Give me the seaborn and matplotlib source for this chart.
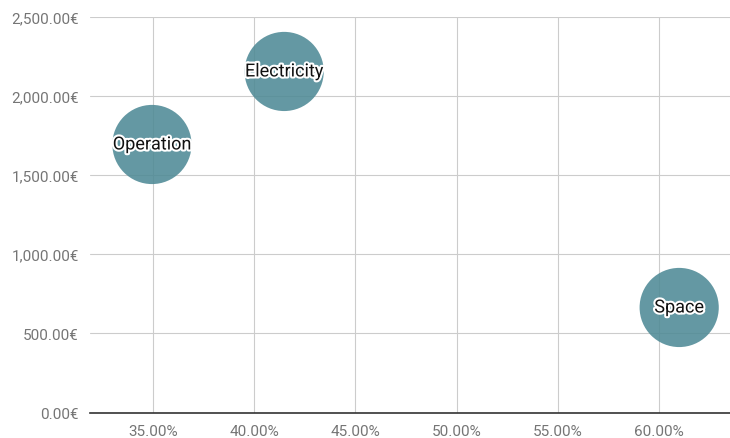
import pandas as pd
import seaborn as sns
import matplotlib.pyplot as plt
import matplotlib.patheffects as pe
from matplotlib.ticker import FuncFormatter, MultipleLocator

# data
labels = ['Operation', 'Electricity', 'Space']
share = [0.3495, 0.4148, 0.6099]
cost = [1692, 2153, 663]

df = pd.DataFrame({'label': labels, 'share': share, 'cost': cost})

sns.set_style('white')
plt.rcParams['font.family'] = ['Roboto', 'DejaVu Sans']

fig = plt.figure(figsize=(7.3, 4.39), dpi=100)
ax = fig.add_axes([90 / 730, 25.5 / 439, 640 / 730, 396 / 439])

sns.scatterplot(data=df, x='share', y='cost', s=3250, color='#4f8a96',
                alpha=0.88, edgecolor='none', ax=ax, zorder=3, legend=False)

for _, r in df.iterrows():
    ax.text(r['share'], r['cost'], r['label'], ha='center', va='center',
            fontsize=13, color='#111111', zorder=4,
            path_effects=[pe.withStroke(linewidth=3, foreground='white')])

ax.set_xlim(0.3189, 0.635)
ax.set_ylim(0, 2500)
ax.xaxis.set_major_locator(MultipleLocator(0.05))
ax.yaxis.set_major_locator(MultipleLocator(500))
ax.xaxis.set_major_formatter(FuncFormatter(lambda v, p: f'{v * 100:.2f}%'))
ax.yaxis.set_major_formatter(FuncFormatter(lambda v, p: f'{v:,.2f}€'))

ax.grid(True, color='#cccccc', linewidth=0.8, zorder=0)
ax.set_axisbelow(True)
for s in ['top', 'right', 'left']:
    ax.spines[s].set_visible(False)
ax.spines['bottom'].set_color('#333333')
ax.spines['bottom'].set_linewidth(1.2)
ax.tick_params(axis='both', length=0, labelsize=11, labelcolor='#757575')
ax.tick_params(axis='x', pad=8)
ax.tick_params(axis='y', pad=8)
ax.set_xlabel('')
ax.set_ylabel('')

fig.savefig('out.png', dpi=100)
